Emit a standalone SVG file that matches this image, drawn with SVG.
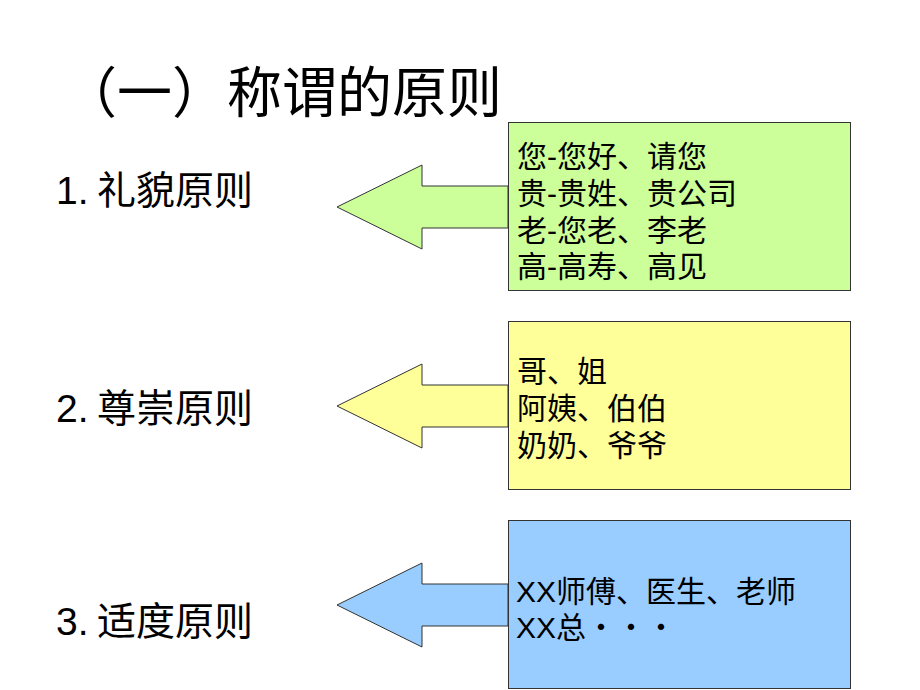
<svg xmlns="http://www.w3.org/2000/svg" width="920" height="690" viewBox="0 0 920 690">
<style>
.title{font-family:"Noto Sans CJK SC","Liberation Sans",sans-serif;font-size:55px;fill:#000}
.lbl{font-family:"Liberation Sans","Noto Sans CJK SC",sans-serif;font-size:39px;fill:#000}
.txt{font-family:"Liberation Sans","Noto Sans CJK SC",sans-serif;font-size:30px;fill:#000}
.box{stroke:#333;stroke-width:1}
.arr{stroke:#333;stroke-width:1;stroke-linejoin:miter}
</style>
<rect width="920" height="690" fill="#fff"/>
<text class="title" x="62" y="112">（一）称谓的原则</text>
<g id="labels">
<text class="lbl" x="56" y="204">1.<tspan x="97">礼貌原则</tspan></text>
<text class="lbl" x="56" y="422">2.<tspan x="97">尊崇原则</tspan></text>
<text class="lbl" x="56" y="635">3.<tspan x="97">适度原则</tspan></text>
</g>
<g id="connectors">
<polygon class="arr" fill="#CCFF99" points="508,186 422,186 422,165 337,207 422,249 422,228 508,228"/>
<polygon class="arr" fill="#FFFF99" points="508,385 422,385 422,364 337,406 422,448 422,427 508,427"/>
<polygon class="arr" fill="#99CCFF" points="508,584 422,584 422,563 337,605 422,647 422,626 508,626"/>
</g>
<g id="node1">
<rect class="box" x="508.5" y="122.5" width="342" height="168" fill="#CCFF99"/>
<text class="txt" x="517" y="167">您-您好、请您</text>
<text class="txt" x="517" y="204">贵-贵姓、贵公司</text>
<text class="txt" x="517" y="241">老-您老、李老</text>
<text class="txt" x="517" y="277">高-高寿、高见</text>
</g>
<g id="node2">
<rect class="box" x="508.5" y="321.5" width="342" height="168" fill="#FFFF99"/>
<text class="txt" x="517" y="382">哥、姐</text>
<text class="txt" x="517" y="419">阿姨、伯伯</text>
<text class="txt" x="517" y="456">奶奶、爷爷</text>
</g>
<g id="node3">
<rect class="box" x="508.5" y="520.5" width="342" height="168" fill="#99CCFF"/>
<text class="txt" x="516" y="602">XX师傅、医生、老师</text>
<text class="txt" x="516" y="638">XX总・・・</text>
</g>
</svg>
